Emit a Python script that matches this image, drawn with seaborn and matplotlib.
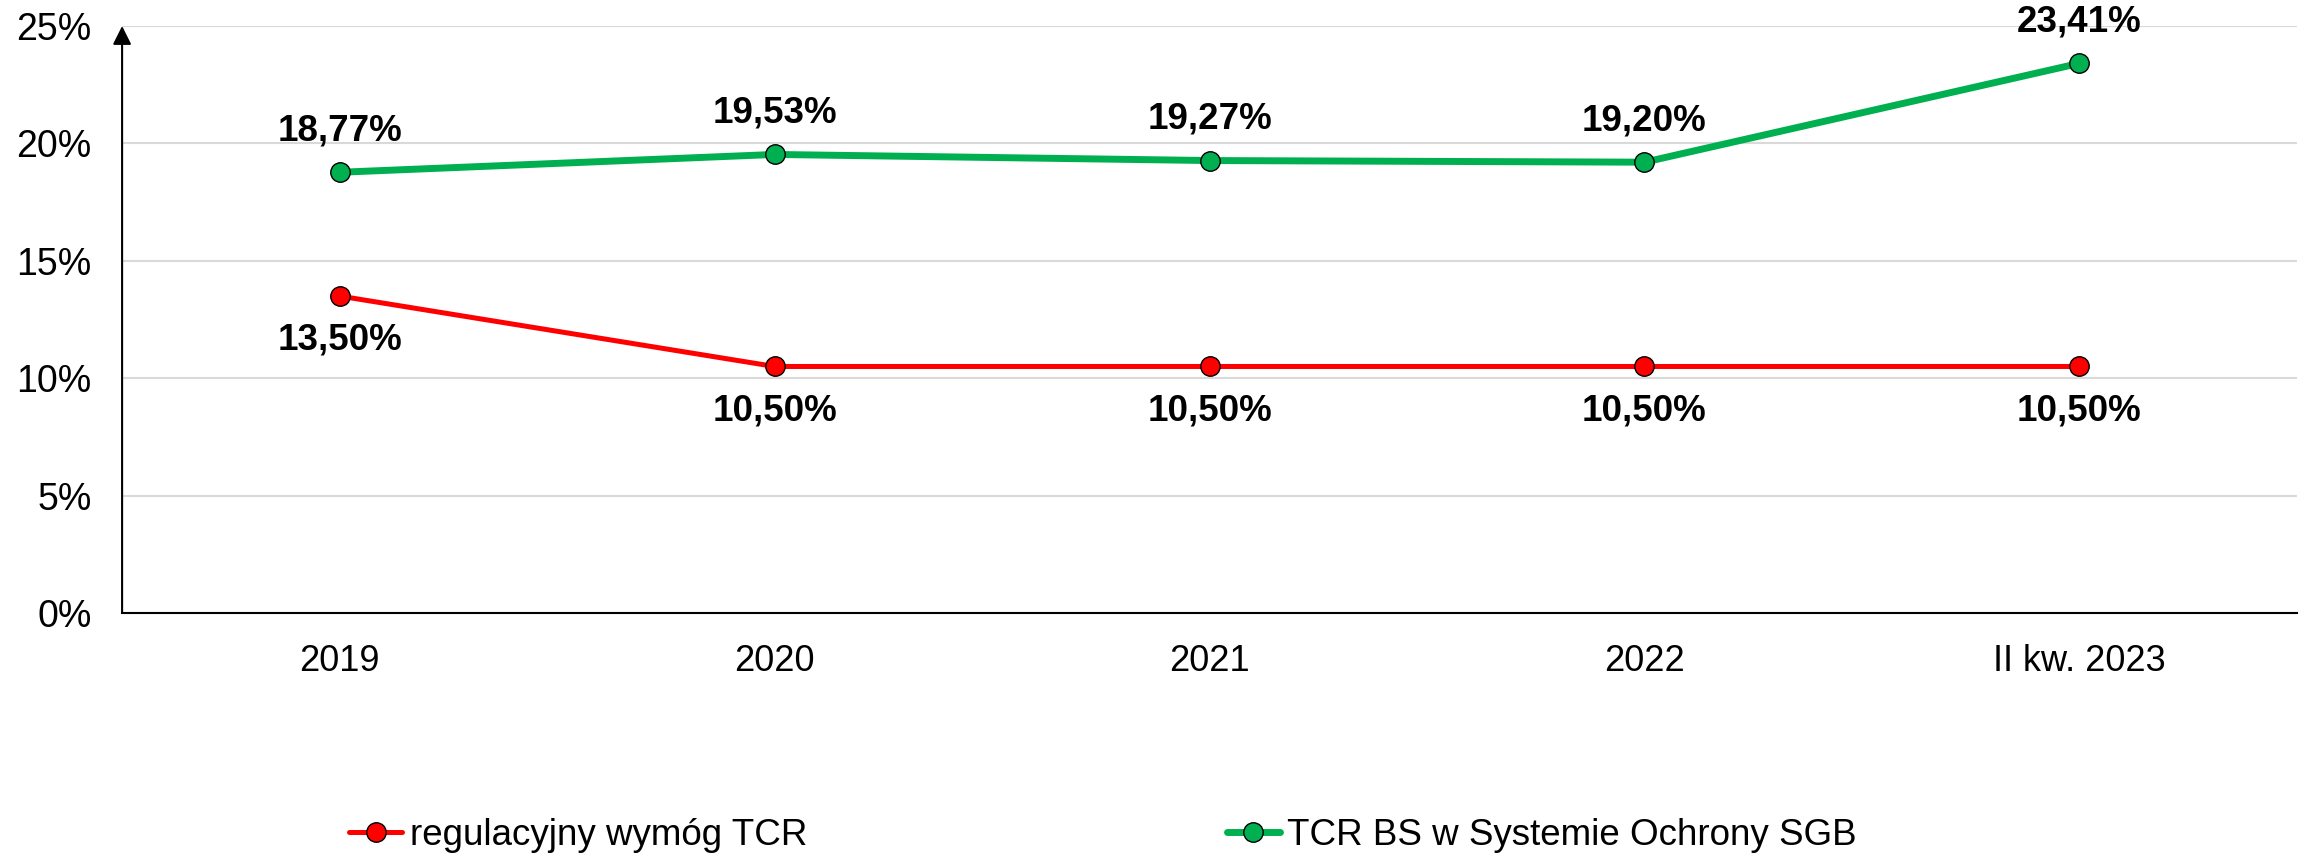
import matplotlib

matplotlib.use("Agg")
import matplotlib.pyplot as plt
import pandas as pd
import seaborn as sns
from matplotlib.ticker import FuncFormatter, MultipleLocator

categories = ["2019", "2020", "2021", "2022", "II kw. 2023"]
wymog_tcr = [13.50, 10.50, 10.50, 10.50, 10.50]
tcr_sgb = [18.77, 19.53, 19.27, 19.20, 23.41]
series_names = ["regulacyjny wymóg TCR", "TCR BS w Systemie Ochrony SGB"]

RED = "#FF0000"
GREEN = "#00B050"

sns.set_style("white")
plt.rcParams["font.family"] = ["Liberation Sans", "DejaVu Sans"]
plt.rcParams["text.color"] = "black"
plt.rcParams["xtick.color"] = "black"
plt.rcParams["ytick.color"] = "black"

df = pd.DataFrame({"okres": categories, "wymog": wymog_tcr, "sgb": tcr_sgb})

fig = plt.figure(figsize=(23.08, 8.58), dpi=100)
ax = fig.add_axes([0.0529, 0.2855, 0.9423, 0.6842])

sns.lineplot(data=df, x="okres", y="wymog", ax=ax, color=RED, lw=3.6, marker="o",
             markersize=14, markeredgecolor="black", markeredgewidth=1.0,
             label=series_names[0], sort=False, zorder=3)
sns.lineplot(data=df, x="okres", y="sgb", ax=ax, color=GREEN, lw=5.0, marker="o",
             markersize=14, markeredgecolor="black", markeredgewidth=1.0,
             label=series_names[1], sort=False, zorder=4)

# data labels: green above, red below
for i, v in enumerate(tcr_sgb):
    ax.annotate(f"{v:.2f}%".replace(".", ","), (i, v), xytext=(0, 30),
                textcoords="offset points", ha="center", va="center",
                fontsize=26.5, fontweight="bold")
for i, v in enumerate(wymog_tcr):
    ax.annotate(f"{v:.2f}%".replace(".", ","), (i, v), xytext=(0, -32),
                textcoords="offset points", ha="center", va="center",
                fontsize=26.5, fontweight="bold")

ax.set_xlim(-0.5, len(categories) - 0.5)
ax.set_ylim(0, 25)
ax.yaxis.set_major_locator(MultipleLocator(5))
ax.yaxis.set_major_formatter(FuncFormatter(lambda v, _: f"{v:.0f}%"))
ax.grid(axis="y", color="#D9D9D9", lw=1.5)
ax.set_axisbelow(True)
ax.set_xlabel("")
ax.set_ylabel("")

ax.tick_params(axis="y", labelsize=27, length=8, width=1.2, direction="out", pad=14)
ax.tick_params(axis="x", labelsize=26, length=0, pad=22)

for side in ("top", "right", "left"):
    ax.spines[side].set_visible(False)
ax.spines["bottom"].set_color("black")
ax.spines["bottom"].set_linewidth(1.5)

# y axis drawn as an arrow
ax.annotate("", xy=(0, 1.0), xytext=(0, 0), xycoords="axes fraction",
            arrowprops=dict(arrowstyle="-|>,head_length=0.8,head_width=0.4",
                            mutation_scale=14, color="black", lw=1.5,
                            shrinkA=0, shrinkB=0))

handles, labels = ax.get_legend_handles_labels()
ax.get_legend().remove()
fig.legend(handles, labels, loc="center left", bbox_to_anchor=(349 / 2308, 0.026),
           ncol=2, frameon=False, fontsize=26.5, handlelength=1.45, handletextpad=0.2,
           columnspacing=11.4, borderpad=0, borderaxespad=0)

fig.savefig("out.png", dpi=100)
